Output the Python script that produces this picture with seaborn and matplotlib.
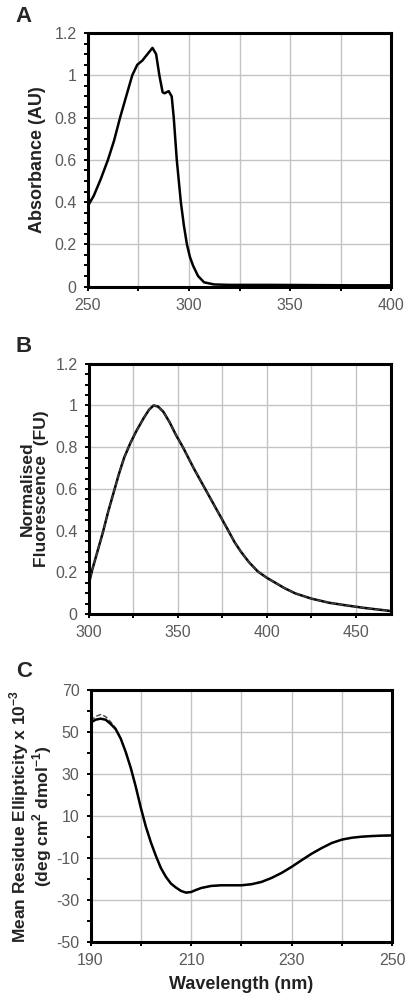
import matplotlib
matplotlib.use("Agg")
import matplotlib.pyplot as plt
import seaborn as sns
import numpy as np
import pandas as pd
from matplotlib.ticker import MultipleLocator, FixedLocator, FuncFormatter

# Panel A: absorbance spectrum
abs_nm = [250, 253, 256.5, 260, 263, 266, 269, 272, 274.5, 277, 279.5, 282, 283.8, 285.4, 287, 288, 290,
          291.5, 292.5, 294, 296, 297.5, 299, 300.5, 302, 304.5, 307.5, 312.5, 320, 340, 360, 380, 400]
abs_au = [0.38, 0.43, 0.51, 0.6, 0.69, 0.8, 0.9, 1.0, 1.05, 1.07, 1.1, 1.13, 1.1, 1.0, 0.92, 0.915, 0.925,
          0.9, 0.8, 0.6, 0.4, 0.29, 0.2, 0.14, 0.1, 0.05, 0.02, 0.01, 0.008, 0.008, 0.007, 0.006, 0.006]

# Panel B: normalised fluorescence
fl_nm = [300, 302, 305, 308, 311, 314, 317, 320, 323.5, 327, 331, 334, 336.5, 339, 342, 345.5, 349, 353,
         359, 365.5, 372, 378.5, 382, 385.5, 390, 395, 400, 405, 410, 416, 425, 435, 445, 455, 465, 470]
fl_fu = [0.14, 0.21, 0.3, 0.39, 0.49, 0.58, 0.67, 0.75, 0.82, 0.88, 0.94, 0.98, 1.0, 0.995, 0.97, 0.92, 0.86, 0.8,
         0.7, 0.6, 0.5, 0.4, 0.345, 0.3, 0.25, 0.205, 0.175, 0.15, 0.125, 0.1, 0.075, 0.055, 0.042, 0.03, 0.02, 0.015]

# Panel C: CD spectra (two overlaid samples)
cd_nm = [190, 191, 192, 193, 194, 195, 196, 197, 198, 199, 200, 201, 202, 203, 204, 205, 206, 207, 208, 209,
         210, 211, 212, 214, 216, 218, 220, 222, 224, 226, 228, 230, 232, 234, 236, 238, 240, 242, 244, 246, 248, 250]
cd_solid = [54.6, 56, 56.5, 56, 54, 51.5, 47, 40.6, 33, 24, 14, 5, -2.5, -9, -14.8, -19, -22.2, -24.1, -25.7, -26.5,
            -26.2, -25.2, -24.3, -23.3, -23, -23, -23, -22.5, -21.4, -19.5, -17.1, -14.2, -11, -7.9, -5.2, -2.8, -1.2,
            -0.3, 0.2, 0.5, 0.7, 0.8]
cd_dash = [55.5, 57.5, 58.5, 57.5, 55, 52, 47, 40.6, 33, 24, 14, 5, -2.5, -9, -14.8, -19, -22.2, -24.1, -25.7, -26.5,
           -26.2, -25.2, -24.3, -23.3, -23, -23, -23, -22.5, -21.4, -19.5, -17.1, -14.2, -11, -7.9, -5.2, -2.8, -1.2,
           -0.3, 0.2, 0.5, 0.7, 0.8]

cd_xticks = [190, 210, 230, 250]
cd_yticks = [-50, -30, -10, 10, 30, 50, 70]

sns.set_style("white")
plt.rcParams['font.family'] = ['Liberation Sans', 'DejaVu Sans']
plt.rcParams['mathtext.fontset'] = 'custom'
plt.rcParams['mathtext.rm'] = 'Liberation Sans:bold'
plt.rcParams['mathtext.bf'] = 'Liberation Sans:bold'
plt.rcParams['lines.solid_joinstyle'] = 'round'

fig = plt.figure(figsize=(4.06, 10.02), dpi=100)

tick_col = "#5a5a5a"
grid_col = "#c4c4c4"
lab_col = "#222222"


def style_axis(ax, xlim, ylim, xmaj, xmin, ymaj, ymin):
    ax.set_xlim(*xlim)
    ax.set_ylim(*ylim)
    ax.xaxis.set_major_locator(MultipleLocator(xmaj))
    ax.xaxis.set_minor_locator(MultipleLocator(xmin))
    ax.yaxis.set_major_locator(MultipleLocator(ymaj))
    ax.yaxis.set_minor_locator(MultipleLocator(ymin))
    fmt = FuncFormatter(lambda v, p: "%g" % round(v, 6))
    ax.yaxis.set_major_formatter(fmt)
    ax.xaxis.set_major_formatter(fmt)
    ax.tick_params(axis="both", which="both", direction="out", color="black",
                   length=3, width=1.4, labelsize=11.5, labelcolor=tick_col, pad=5)
    ax.tick_params(left=True, bottom=True)
    ax.tick_params(axis="y", which="minor", left=True, length=3)
    ax.tick_params(axis="x", which="minor", bottom=True, length=3)
    for s in ax.spines.values():
        s.set_visible(True)
        s.set_color("black")
        s.set_linewidth(2.2)
    ax.set_axisbelow(True)


def add_grid(ax):
    ax.grid(True, which="both", axis="x", color=grid_col, lw=1.0)
    ax.grid(True, which="major", axis="y", color=grid_col, lw=1.0)


# A
axA = fig.add_axes([0.216, 0.714, 0.748, 0.253])
dfA = pd.DataFrame({"nm": abs_nm, "au": abs_au})
sns.lineplot(data=dfA, x="nm", y="au", ax=axA, color="black", lw=1.8)
style_axis(axA, (250, 400), (0, 1.2), 50, 25, 0.2, 0.05)
add_grid(axA)
axA.set_xlabel("")
axA.set_ylabel("Absorbance (AU)", fontsize=13, fontweight="bold", color=lab_col, labelpad=6)
fig.text(0.059, 0.984, "A", fontsize=16, fontweight="bold", ha="center", va="center")

# B
axB = fig.add_axes([0.218, 0.387, 0.746, 0.250])
dfB = pd.DataFrame({"nm": fl_nm, "fu": fl_fu})
sns.lineplot(data=dfB, x="nm", y="fu", ax=axB, color="black", lw=1.8)
sns.lineplot(data=dfB, x="nm", y="fu", ax=axB, color="#444444", lw=1.0, linestyle="--")
style_axis(axB, (300, 470), (0, 1.2), 50, 25, 0.2, 0.05)
add_grid(axB)
axB.set_xlabel("")
axB.set_ylabel("Normalised\nFluorescence  (FU)", fontsize=12.5, fontweight="bold", color=lab_col,
               labelpad=4, linespacing=1.0)
fig.text(0.059, 0.654, "B", fontsize=16, fontweight="bold", ha="center", va="center")

# C
axC = fig.add_axes([0.223, 0.060, 0.743, 0.251])
dfC = pd.DataFrame({"nm": cd_nm + cd_nm, "mre": cd_solid + cd_dash,
                    "sample": ["s1"] * len(cd_nm) + ["s2"] * len(cd_nm)})
sns.lineplot(data=dfC[dfC["sample"] == "s2"], x="nm", y="mre", ax=axC, color="#444444", lw=1.0, linestyle="--")
sns.lineplot(data=dfC[dfC["sample"] == "s1"], x="nm", y="mre", ax=axC, color="black", lw=1.8)
style_axis(axC, (190, 250), (-50, 70), 20, 10, 20, 10)
axC.xaxis.set_major_locator(FixedLocator(cd_xticks))
axC.xaxis.set_minor_locator(MultipleLocator(10))
axC.yaxis.set_major_locator(FixedLocator(cd_yticks))
axC.yaxis.set_minor_locator(MultipleLocator(10))
add_grid(axC)
axC.set_xlabel("Wavelength (nm)", fontsize=13, fontweight="bold", color=lab_col, labelpad=6)
axC.set_ylabel("Mean Residue Ellipticity x 10$^{-3}$\n(deg cm$^{2}$ dmol$^{-1}$)", fontsize=12.5,
               fontweight="bold", color=lab_col, labelpad=2, linespacing=0.95)
fig.text(0.059, 0.330, "C", fontsize=16, fontweight="bold", ha="center", va="center")

fig.savefig("out.png", dpi=100)
